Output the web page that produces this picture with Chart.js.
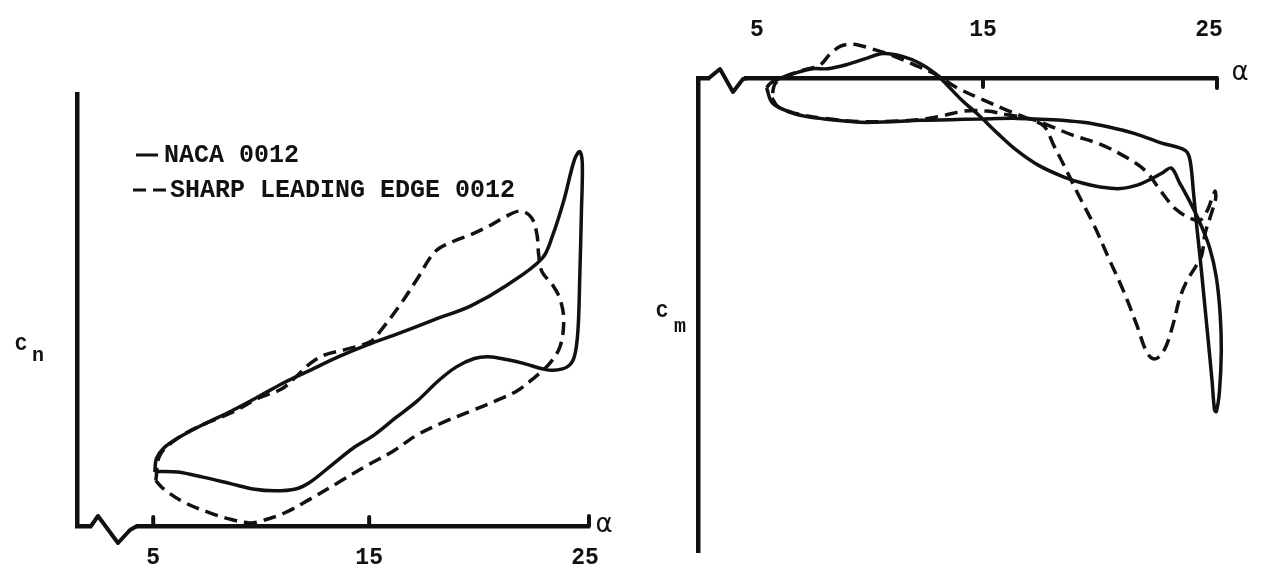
<!DOCTYPE html>
<html><head><meta charset="utf-8">
<script src="https://cdn.jsdelivr.net/npm/chart.js@4"></script>
<style>
html,body{margin:0;padding:0;background:#fff;}
#wrap{position:relative;width:1263px;height:578px;overflow:hidden;background:#fff;}
#c1{position:absolute;left:0;top:0;}
#c2{position:absolute;left:640px;top:0;}
</style></head><body>
<div id="wrap">
<canvas id="c1" width="640" height="578"></canvas>
<canvas id="c2" width="623" height="578"></canvas>
</div>
<script>
// ---- data ----
const alphaTicks = [5, 15, 25];
const seriesNames = ['NACA 0012', 'SHARP LEADING EDGE 0012'];

// Left panel: normal force coefficient Cn vs alpha
const leftNacaAlpha = [5.07,5.15,5.48,6.14,7.30,8.62,9.95,10.94,12.26,13.59,14.91,16.40,18.05,19.71,21.36,23.01,23.51,24.01,24.50,24.75,24.87,24.83,24.75,24.67,24.50,24.17,23.51,23.01,22.19,21.36,20.53,19.87,19.04,18.22,17.23,16.23,15.24,14.25,13.25,12.26,11.60,10.61,9.62,8.62,7.30,6.14,5.31,5.07];
const leftNacaCn = [0.265,0.332,0.382,0.432,0.498,0.565,0.640,0.698,0.765,0.832,0.890,0.948,1.015,1.082,1.182,1.315,1.432,1.598,1.798,1.840,1.782,1.548,1.215,0.965,0.832,0.782,0.765,0.773,0.798,0.818,0.832,0.823,0.782,0.715,0.615,0.532,0.448,0.382,0.298,0.215,0.182,0.173,0.182,0.207,0.240,0.265,0.268,0.265];
const leftSharpAlpha = [5.12,5.31,6.14,7.30,8.62,9.95,10.94,11.60,12.26,12.92,13.92,15.07,15.57,16.40,17.23,18.05,18.88,19.71,20.53,21.36,22.02,22.52,22.77,22.85,23.01,23.51,23.84,24.01,23.84,23.35,22.68,21.86,20.86,19.71,18.55,17.23,16.07,14.91,13.59,12.26,11.10,9.95,9.45,8.62,7.62,6.46,5.48,5.12];
const leftSharpCn = [0.223,0.348,0.432,0.498,0.557,0.632,0.673,0.732,0.798,0.840,0.868,0.907,0.965,1.082,1.215,1.348,1.398,1.432,1.473,1.523,1.548,1.515,1.432,1.332,1.248,1.182,1.115,1.015,0.882,0.798,0.732,0.665,0.615,0.565,0.515,0.448,0.365,0.298,0.215,0.132,0.065,0.023,0.015,0.032,0.065,0.115,0.182,0.223];

// Right panel: pitching moment coefficient Cm vs alpha
const rightNacaAlpha = [5.43,5.67,6.33,7.15,8.29,9.60,10.91,12.22,13.53,14.84,16.48,18.12,19.43,20.57,21.72,22.87,23.93,24.15,24.31,24.47,24.64,24.80,24.96,25.13,25.24,25.32,25.46,25.54,25.49,25.32,25.03,24.59,24.15,23.69,23.33,22.95,22.46,21.89,21.07,20.25,19.43,18.61,17.46,16.48,15.66,14.84,14.02,13.37,12.88,12.22,11.40,10.58,9.77,8.95,8.13,7.47,6.65,5.99,5.59,5.43];
const rightNacaCm = [-0.015,-0.037,-0.050,-0.058,-0.063,-0.067,-0.066,-0.064,-0.063,-0.062,-0.061,-0.063,-0.067,-0.074,-0.084,-0.098,-0.109,-0.123,-0.173,-0.229,-0.284,-0.340,-0.396,-0.457,-0.501,-0.504,-0.473,-0.412,-0.357,-0.301,-0.257,-0.218,-0.187,-0.158,-0.136,-0.143,-0.152,-0.161,-0.167,-0.165,-0.159,-0.150,-0.132,-0.109,-0.084,-0.057,-0.032,-0.009,0.007,0.022,0.033,0.037,0.029,0.020,0.014,0.014,0.007,-0.001,-0.008,-0.015];
const rightSharpAlpha = [5.67,5.92,6.65,7.96,9.60,11.24,12.39,13.21,14.19,15.17,16.15,17.14,17.71,18.94,20.25,21.39,22.21,22.87,23.52,24.18,24.59,24.91,25.16,25.27,25.29,25.08,24.83,24.67,24.42,24.01,23.69,23.44,23.11,22.79,22.51,22.21,21.80,21.23,20.57,19.92,19.26,18.61,18.12,17.71,17.14,16.15,15.01,13.86,12.88,11.89,10.91,10.09,9.27,8.70,8.21,7.80,6.98,6.24,5.80,5.67];
const rightSharpCm = [-0.030,-0.043,-0.053,-0.061,-0.066,-0.065,-0.062,-0.057,-0.050,-0.050,-0.056,-0.062,-0.069,-0.086,-0.101,-0.121,-0.141,-0.171,-0.198,-0.212,-0.215,-0.201,-0.179,-0.171,-0.182,-0.207,-0.234,-0.268,-0.284,-0.307,-0.334,-0.368,-0.404,-0.421,-0.424,-0.412,-0.373,-0.323,-0.273,-0.223,-0.179,-0.134,-0.101,-0.073,-0.063,-0.050,-0.033,-0.015,0.006,0.021,0.035,0.044,0.051,0.048,0.035,0.020,0.011,0.002,-0.009,-0.030];

// ---- helpers ----
const pts = (xs, ys) => xs.map((v, i) => ({x: v, y: ys[i]}));
const INK = '#111';
const SOLID = {borderColor: INK, borderWidth: 3.5, borderDash: []};
const DASHED = {borderColor: INK, borderWidth: 3.5, borderDash: [13, 7]};
const MONO = '"Liberation Mono", "DejaVu Sans Mono", monospace';

function ds(label, data, style) {
  return Object.assign({label, data, showLine: true, pointRadius: 0, tension: 0.35, clip: false, fill: false}, style);
}
function poly(ctx, p) {
  ctx.beginPath(); ctx.moveTo(p[0][0], p[0][1]);
  for (let i = 1; i < p.length; i++) ctx.lineTo(p[i][0], p[i][1]);
  ctx.stroke();
}
function xAxis(min, max, position, pad, h) {
  return {
    type: 'linear', position, min, max,
    afterBuildTicks: s => { s.ticks = alphaTicks.map(v => ({value: v})); },
    afterFit: s => { s.height = h; },
    grid: {display: false, drawTicks: false, tickLength: 0},
    border: {display: true, color: INK, width: 4.5},
    ticks: {color: INK, padding: pad, maxRotation: 0, autoSkip: false,
            font: {family: MONO, size: 23, weight: 'bold'}, callback: v => String(v)}
  };
}
function yAxis(min, max) {
  return {
    type: 'linear', position: 'left', min, max,
    afterFit: s => { s.width = 0; },
    grid: {display: false, drawTicks: false, tickLength: 0},
    border: {display: true, color: INK, width: 4.5},
    ticks: {display: false}
  };
}

// ---- left chart decorations ----
const leftDeco = {
  id: 'leftDeco',
  afterDraw(chart) {
    const {ctx, chartArea: a, scales: {x}} = chart;
    ctx.save();
    ctx.strokeStyle = INK; ctx.lineWidth = 4; ctx.lineCap = 'round'; ctx.lineJoin = 'round';
    [5, 15].forEach(v => { const px = x.getPixelForValue(v); poly(ctx, [[px, a.bottom], [px, a.bottom - 9]]); });
    poly(ctx, [[a.right, a.bottom], [a.right, a.bottom - 10]]);
    // axis break
    ctx.fillStyle = '#fff'; ctx.fillRect(a.left + 15, a.bottom - 3.5, 44, 7);
    poly(ctx, [[a.left + 14, a.bottom], [a.left + 21, a.bottom - 10], [a.left + 41, a.bottom + 17], [a.left + 53, a.bottom + 4], [a.left + 60, a.bottom]]);
    // axis names
    ctx.fillStyle = INK; ctx.textBaseline = 'middle'; ctx.textAlign = 'center';
    ctx.font = '26px "DejaVu Sans"';
    ctx.fillText('α', a.right + 15, a.bottom - 1);
    ctx.font = 'bold 20px ' + MONO;
    ctx.fillText('C', 21, 345);
    ctx.fillText('n', 38, 356);
    // legend
    const items = chart.data.datasets;
    ctx.textAlign = 'left'; ctx.font = 'bold 25px ' + MONO;
    const rows = [155, 190];
    items.forEach((d, i) => {
      ctx.save();
      ctx.lineWidth = 3; ctx.lineCap = 'butt';
      ctx.setLineDash(d.borderDash);
      const x0 = i === 0 ? 136 : 133, x1 = i === 0 ? 158 : 166;
      poly(ctx, [[x0, rows[i]], [x1, rows[i]]]);
      ctx.restore();
      ctx.fillText(d.label, i === 0 ? 164 : 170, rows[i] + 1);
    });
    ctx.restore();
  }
};

// ---- right chart decorations ----
const rightDeco = {
  id: 'rightDeco',
  afterDraw(chart) {
    const {ctx, chartArea: a, scales: {x}} = chart;
    ctx.save();
    ctx.strokeStyle = INK; ctx.lineWidth = 4; ctx.lineCap = 'round'; ctx.lineJoin = 'round';
    const p15 = x.getPixelForValue(15);
    poly(ctx, [[p15, a.top], [p15, a.top + 9]]);
    poly(ctx, [[a.right, a.top], [a.right, a.top + 10]]);
    ctx.fillStyle = '#fff'; ctx.fillRect(a.left + 12, a.top - 3.5, 34, 7);
    poly(ctx, [[a.left + 11, a.top], [a.left + 22, a.top - 9], [a.left + 35, a.top + 14], [a.left + 45, a.top + 1], [a.left + 50, a.top]]);
    ctx.fillStyle = INK; ctx.textBaseline = 'middle'; ctx.textAlign = 'center';
    ctx.font = '26px "DejaVu Sans"';
    ctx.fillText('α', a.right + 23, a.top - 5);
    ctx.font = 'bold 20px ' + MONO;
    ctx.fillText('C', 662 - 640, 312);
    ctx.fillText('m', 680 - 640, 327);
    ctx.restore();
  }
};

Chart.defaults.animation = false;

new Chart(document.getElementById('c1'), {
  type: 'scatter',
  data: {datasets: [
    ds(seriesNames[0], pts(leftNacaAlpha, leftNacaCn), SOLID),
    ds(seriesNames[1], pts(leftSharpAlpha, leftSharpCn), DASHED)
  ]},
  options: {
    responsive: false, animation: false,
    layout: {autoPadding: false, padding: {left: 77, right: 51, top: 94, bottom: 0}},
    plugins: {legend: {display: false}, tooltip: {enabled: false}},
    scales: {x: xAxis(1.47, 25.18, 'bottom', 18, 52), y: yAxis(0, 2.123)}
  },
  plugins: [leftDeco]
});

new Chart(document.getElementById('c2'), {
  type: 'scatter',
  data: {datasets: [
    ds(seriesNames[0], pts(rightNacaAlpha, rightNacaCm), SOLID),
    ds(seriesNames[1], pts(rightSharpAlpha, rightSharpCm), DASHED)
  ]},
  options: {
    responsive: false, animation: false,
    layout: {autoPadding: false, padding: {left: 58, right: 46, top: 0, bottom: 26}},
    plugins: {legend: {display: false}, tooltip: {enabled: false}},
    scales: {x: xAxis(2.395, 25.35, 'top', 34, 78), y: yAxis(-0.716, 0)}
  },
  plugins: [rightDeco]
});
</script>
</body></html>
